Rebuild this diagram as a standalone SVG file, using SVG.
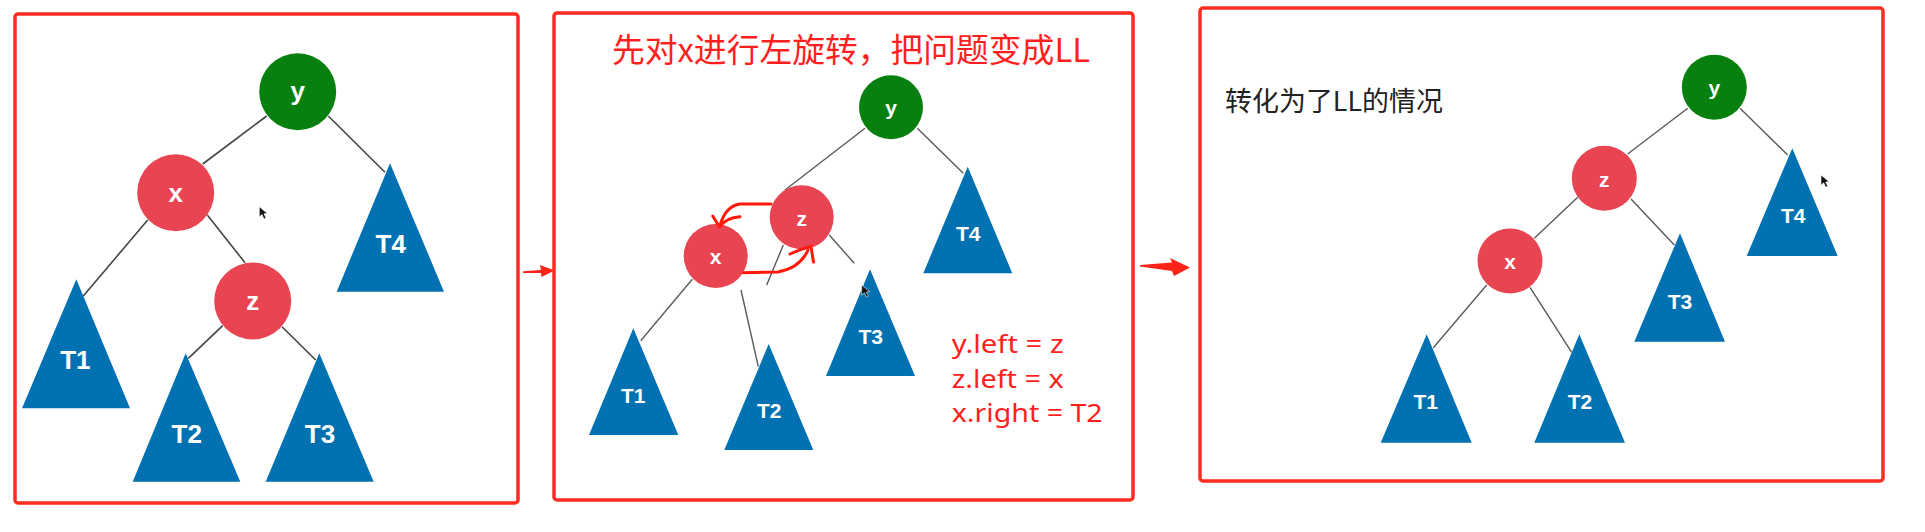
<svg xmlns="http://www.w3.org/2000/svg" width="1925" height="532" viewBox="0 0 1925 532">
<style>
.frame{fill:none;stroke:#fe2b20;stroke-width:3.5}
.g{fill:#07800f}
.r{fill:#e84452}
.tri{fill:#0271b1}
.lbl{font-family:"Liberation Sans",Arial,sans-serif;font-weight:bold;fill:#fff;text-anchor:middle}
.l1{font-size:26px}
.l2{font-size:21px}
.edge1{stroke:#444;stroke-width:1.6;fill:none}
.edge2{stroke:#5a5a5a;stroke-width:1.4;fill:none}
.hand{stroke:#ff1a0a;stroke-width:3;fill:none;stroke-linecap:round;stroke-linejoin:round}
.red{font-family:"Noto Sans CJK SC","Noto Sans",sans-serif;fill:#ff1f1f}
.code{font-family:"Noto Sans","Liberation Sans",sans-serif;font-size:25px;fill:#ff1f1f}
.note{font-family:"Noto Sans CJK SC","Noto Sans",sans-serif;font-size:27px;fill:#222}
.cur{fill:#111;stroke:#fff;stroke-width:0.6}
.arr{fill:#fe2318}
</style>
<rect width="1925" height="532" fill="#fff"/>

<!-- frames -->
<g id="frame1"><rect class="frame" x="15" y="14" width="503" height="489" rx="3"/></g>
<g id="frame2"><rect class="frame" x="554" y="13" width="579" height="487" rx="3"/></g>
<g id="frame3"><rect class="frame" x="1200" y="8" width="683" height="473" rx="3"/></g>

<!-- connectors -->
<g id="connectors">
  <!-- panel 1 -->
  <line class="edge1" x1="266.7" y1="116" x2="202.7" y2="164"/>
  <line class="edge1" x1="328.3" y1="116" x2="385" y2="172.3"/>
  <line class="edge1" x1="147.7" y1="220" x2="83.3" y2="296"/>
  <line class="edge1" x1="207.3" y1="215" x2="245" y2="262.7"/>
  <line class="edge1" x1="222.7" y1="325.7" x2="188.3" y2="358.3"/>
  <line class="edge1" x1="282" y1="326.7" x2="315.7" y2="360"/>
  <!-- panel 2 -->
  <line class="edge2" x1="865" y1="128.3" x2="785" y2="190"/>
  <line class="edge2" x1="917.3" y1="128.3" x2="963.3" y2="173.3"/>
  <line class="edge2" x1="829.3" y1="235" x2="854.3" y2="263.3"/>
  <line class="edge2" x1="783.3" y1="245" x2="766.7" y2="285"/>
  <line class="edge2" x1="692.3" y1="279.3" x2="640.7" y2="340.7"/>
  <line class="edge2" x1="741" y1="290" x2="758.3" y2="366.7"/>
  <!-- panel 3 -->
  <line class="edge2" x1="1687.7" y1="108.3" x2="1627.7" y2="154"/>
  <line class="edge2" x1="1740" y1="108.3" x2="1787.7" y2="155"/>
  <line class="edge2" x1="1577.7" y1="197.3" x2="1534.3" y2="238.3"/>
  <line class="edge2" x1="1631" y1="199" x2="1674.3" y2="245"/>
  <line class="edge2" x1="1486.7" y1="285" x2="1433.3" y2="347.7"/>
  <line class="edge2" x1="1530" y1="287.3" x2="1571.7" y2="352.3"/>
  <!-- arrows between panels -->
  <polygon class="arr" points="523,271.2 541,270 540,265 554.5,270.5 541.5,277 541,273 523,273"/>
  <polygon class="arr" points="1140,265 1172,262.5 1170,258 1190,267.5 1174,276 1172,271 1140,266.5"/>
</g>

<!-- panel 1 nodes -->
<g id="p1-y"><circle class="g" cx="297.7" cy="91.7" r="38.5"/><text class="lbl l1" x="297.7" y="100">y</text></g>
<g id="p1-x"><circle class="r" cx="175.7" cy="192.7" r="38.5"/><text class="lbl l1" x="175.7" y="201.5">x</text></g>
<g id="p1-z"><circle class="r" cx="252.7" cy="301" r="38.5"/><text class="lbl l1" x="252.7" y="310">z</text></g>
<g id="p1-T4"><polygon class="tri" points="390,163.3 444,291.7 336.7,291.7"/><text class="lbl l1" x="390.7" y="252.5">T4</text></g>
<g id="p1-T1"><polygon class="tri" points="76.3,279.3 130,408.3 22,408.3"/><text class="lbl l1" x="75.3" y="369.3">T1</text></g>
<g id="p1-T2"><polygon class="tri" points="185.7,353.3 240.3,481.7 132.7,481.7"/><text class="lbl l1" x="186.7" y="442.7">T2</text></g>
<g id="p1-T3"><polygon class="tri" points="319.3,353.3 373.7,481.7 265.7,481.7"/><text class="lbl l1" x="320" y="442.7">T3</text></g>
<path class="cur" d="M259.3,206.7 L259.3,217 L262,214.5 L264,219 L266,218 L264,213.7 L267.5,213.5 Z"/>

<!-- panel 2 -->
<text class="red" x="612" y="62" font-size="33" textLength="478" lengthAdjust="spacingAndGlyphs">先对x进行左旋转，把问题变成LL</text>
<g id="p2-y"><circle class="g" cx="891" cy="107.3" r="32"/><text class="lbl l2" x="891" y="115">y</text></g>
<g id="p2-z"><circle class="r" cx="801.7" cy="217.3" r="32"/><text class="lbl l2" x="801.7" y="225.5">z</text></g>
<g id="p2-x"><circle class="r" cx="715.7" cy="256" r="32"/><text class="lbl l2" x="715.7" y="263.5">x</text></g>
<g id="p2-T4"><polygon class="tri" points="967.7,166.7 1012.3,273.3 923.3,273.3"/><text class="lbl l2" x="968.3" y="241">T4</text></g>
<g id="p2-T3"><polygon class="tri" points="870,269.3 915,376 826,376"/><text class="lbl l2" x="870.7" y="343.5">T3</text></g>
<g id="p2-T1"><polygon class="tri" points="633.3,328.3 678.3,435 589,435"/><text class="lbl l2" x="633.3" y="403">T1</text></g>
<g id="p2-T2"><polygon class="tri" points="768.7,344 813.3,450 724.3,450"/><text class="lbl l2" x="769.3" y="418">T2</text></g>
<g id="rotation-marks">
  <path class="hand" d="M771,204 L740,204 Q726,206 720.5,224"/>
  <path class="hand" d="M712.7,216 L719.5,227 Q726,217.5 740,216.7"/>
  <path class="hand" d="M743.3,272.7 L778,272 Q800,268 808,250"/>
  <path class="hand" d="M790,254 Q800,249 811,246.5 L813.5,262"/>
</g>
<path class="cur" d="M861.7,285 L861.7,295.3 L864.4,292.8 L866.4,297.3 L868.4,296.3 L866.4,292 L869.9,291.8 Z"/>
<g id="code">
  <text class="code" x="951.7" y="353.3" textLength="112" lengthAdjust="spacingAndGlyphs">y.left = z</text>
  <text class="code" x="951.7" y="387.7" textLength="112" lengthAdjust="spacingAndGlyphs">z.left = x</text>
  <text class="code" x="951.7" y="421.7" textLength="151" lengthAdjust="spacingAndGlyphs">x.right = T2</text>
</g>

<!-- panel 3 -->
<text class="note" x="1225" y="111" textLength="218" lengthAdjust="spacingAndGlyphs">转化为了LL的情况</text>
<g id="p3-y"><circle class="g" cx="1714.3" cy="87.3" r="32.5"/><text class="lbl l2" x="1714.3" y="95">y</text></g>
<g id="p3-z"><circle class="r" cx="1604.3" cy="178.3" r="32.5"/><text class="lbl l2" x="1604.3" y="186.5">z</text></g>
<g id="p3-x"><circle class="r" cx="1510" cy="261" r="32.5"/><text class="lbl l2" x="1510" y="268.5">x</text></g>
<g id="p3-T4"><polygon class="tri" points="1792.3,148.3 1837.7,256 1746.7,256"/><text class="lbl l2" x="1793.3" y="222.7">T4</text></g>
<g id="p3-T3"><polygon class="tri" points="1680,233.3 1725,341.7 1634.3,341.7"/><text class="lbl l2" x="1680" y="309.3">T3</text></g>
<g id="p3-T2"><polygon class="tri" points="1579.3,334.3 1625,442.7 1534.3,442.7"/><text class="lbl l2" x="1580" y="409.3">T2</text></g>
<g id="p3-T1"><polygon class="tri" points="1426.7,334.3 1471.7,442.7 1380.7,442.7"/><text class="lbl l2" x="1425.7" y="409.3">T1</text></g>
<path class="cur" d="M1821,175 L1821,185.3 L1823.7,182.8 L1825.7,187.3 L1827.7,186.3 L1825.7,182 L1829.2,181.8 Z"/>
</svg>
